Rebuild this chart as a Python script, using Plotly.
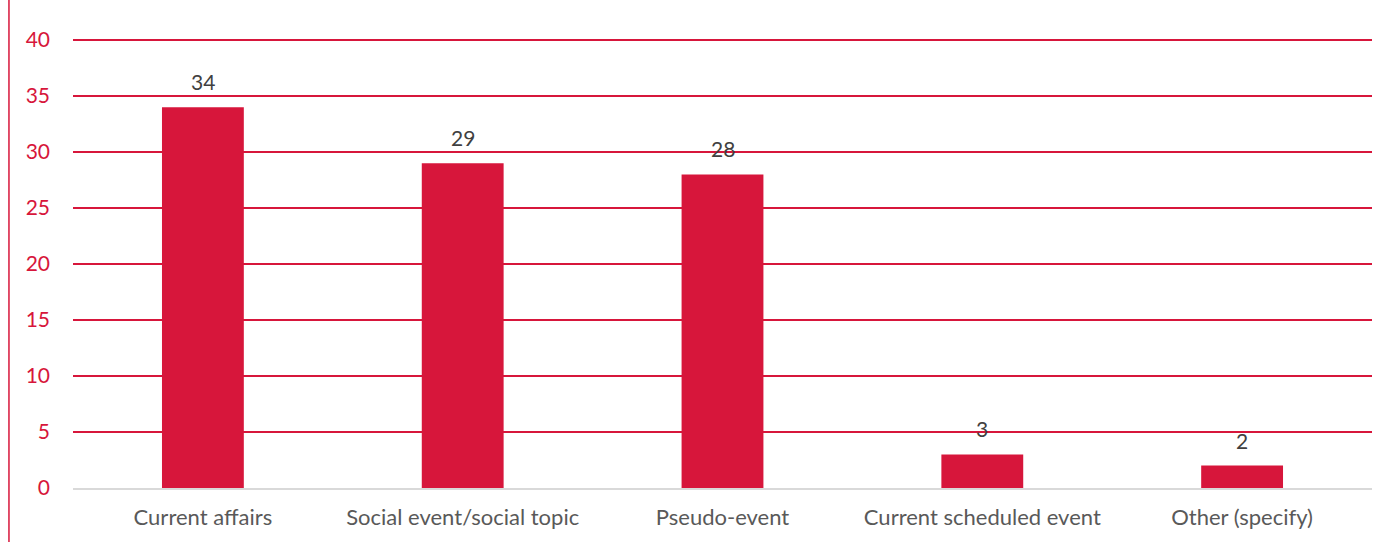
import plotly.graph_objects as go

categories = ["Current affairs", "Social event/social topic", "Pseudo-event",
              "Current scheduled event", "Other (specify)"]
values = [34, 29, 28, 3, 2]
y_ticks = [0, 5, 10, 15, 20, 25, 30, 35, 40]

RED = "#D7163B"
FONT = "Lato, 'Open Sans', sans-serif"
FS = 22

fig = go.Figure()
fig.add_trace(go.Bar(x=categories, y=values, marker_color=RED,
                     marker_line_width=0, showlegend=False, hoverinfo="skip"))

for c, v in zip(categories, values):
    fig.add_annotation(x=c, y=v, text=str(v), showarrow=False,
                       yanchor="bottom", yshift=11,
                       font=dict(family=FONT, size=FS - 1, color="#404040"))

fig.add_shape(type="line", xref="paper", yref="paper",
              x0=-0.0493, x1=-0.0493, y0=-0.2, y1=1.2,
              line=dict(color=RED, width=1.5))

fig.update_layout(
    width=1394, height=542,
    margin=dict(l=73, r=22, t=39, b=54),
    paper_bgcolor="white", plot_bgcolor="white",
    bargap=0.685,
    font=dict(family=FONT, size=FS),
    xaxis=dict(showgrid=False, showline=True, linecolor="#D9D9D9", linewidth=1.5,
               ticks="", tickfont=dict(family=FONT, size=FS, color="#595959"),
               ticklabelstandoff=9),
    yaxis=dict(range=[0, 40.1], tickvals=y_ticks, showgrid=True, gridcolor=RED,
               gridwidth=1.5, zeroline=False, showline=False, ticks="",
               tickfont=dict(family=FONT, size=FS - 1, color=RED),
               ticklabelstandoff=22),
)

fig.write_html("out.html")
